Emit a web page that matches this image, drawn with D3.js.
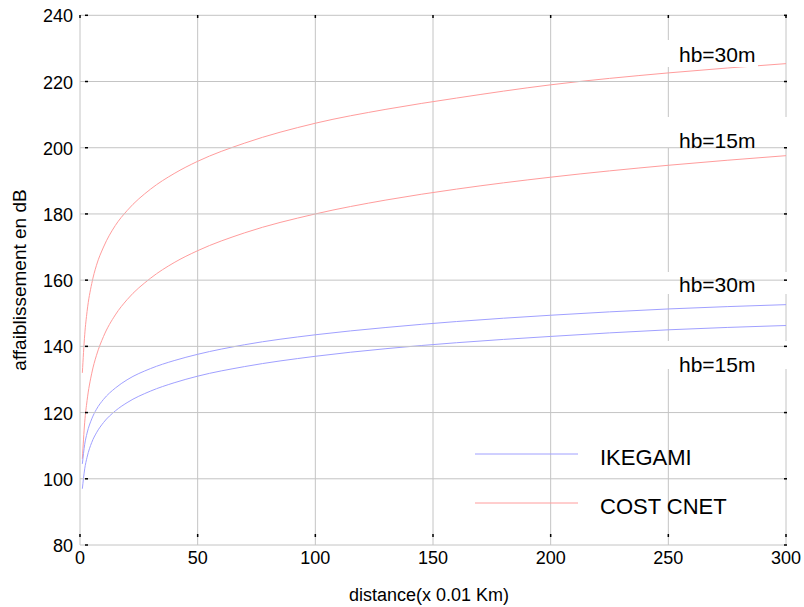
<!DOCTYPE html>
<html>
<head>
<meta charset="utf-8">
<script src="https://cdn.jsdelivr.net/npm/d3@7"></script>
<style>
body { margin: 0; background: #fff; }
text { font-family: "Liberation Sans", Arial, sans-serif; fill: #000; }
</style>
</head>
<body>
<div id="chart"></div>
<script>
// distance in units of 0.01 km
var distances = [1, 2, 3, 5, 7, 10, 15, 20, 30, 40, 50, 70, 100, 130, 160, 200, 250, 300];
// COST CNET (red)
var cost30 = [132, 143.5, 150.5, 159, 164.5, 170, 176.5, 181, 187.5, 192.2, 195.9, 201.4, 207.4, 211.6, 215, 219, 222.6, 225.4];
var cost15 = [106, 117.1, 123.6, 131.9, 137.3, 143, 149.5, 154.1, 160.6, 165.3, 168.9, 174.3, 180, 184.2, 187.5, 191.1, 194.7, 197.6];
// IKEGAMI (blue)
var ike30 = [104.5, 110.4, 113.8, 118.1, 121, 124, 127.4, 129.9, 133.3, 135.7, 137.6, 140.5, 143.5, 145.7, 147.5, 149.4, 151.3, 152.6];
var ike15 = [97, 103, 106.5, 111, 113.9, 117, 120.5, 123, 126.5, 129, 131, 133.9, 137, 139.3, 141.1, 143, 145, 146.3];

var xTicks = [0, 50, 100, 150, 200, 250, 300];
var yTicks = [80, 100, 120, 140, 160, 180, 200, 220, 240];
var legendNames = ["IKEGAMI", "COST CNET"];
var labels = [
  { text: "hb=30m", v: 240 - 54 / 3.3125 },
  { text: "hb=15m", v: 200 },
  { text: "hb=30m", v: 158 },
  { text: "hb=15m", v: 134 }
];

var W = 804, H = 607;
var svg = d3.select("#chart").append("svg")
    .attr("width", W)
    .attr("height", H);

var x = d3.scaleLinear().domain([0, 300]).range([80, 786]);
var y = d3.scaleLinear().domain([80, 240]).range([545, 15.3]);

var gridColor = "#c4c4c4";

// vertical grid
svg.append("g").selectAll("line").data(xTicks).join("line")
    .attr("x1", d => x(d)).attr("x2", d => x(d))
    .attr("y1", y(240)).attr("y2", y(80))
    .attr("stroke", gridColor).attr("stroke-width", 1);

// curves
var line = d3.line()
    .x((d, i) => x(distances[i]))
    .y(d => y(d))
    .curve(d3.curveMonotoneX);

var series = [
  { vals: cost30, color: "#ff9c9c" },
  { vals: cost15, color: "#ff9c9c" },
  { vals: ike30, color: "#a0a0ff" },
  { vals: ike15, color: "#a0a0ff" }
];
svg.append("g").selectAll("path").data(series).join("path")
    .attr("d", d => line(d.vals))
    .attr("fill", "none")
    .attr("stroke", d => d.color)
    .attr("stroke-width", 1);

// white boxes behind the labels
var boxes = [
  { y0: 40, y1: 67, x1: 758 },
  { y0: 117, y1: 148, x1: 790 },
  { y0: 272, y1: 294, x1: 790 },
  { y0: 341, y1: 369, x1: 790 }
];
svg.append("g").selectAll("rect").data(boxes).join("rect")
    .attr("x", 666).attr("y", d => d.y0)
    .attr("width", d => d.x1 - 666).attr("height", d => d.y1 - d.y0)
    .attr("fill", "#fff");

// horizontal grid
svg.append("g").selectAll("line").data(yTicks).join("line")
    .attr("x1", x(0)).attr("x2", x(300))
    .attr("y1", d => y(d)).attr("y2", d => y(d))
    .attr("stroke", gridColor).attr("stroke-width", 1);

// small black tick marks
var ticks = svg.append("g").attr("stroke", "#000").attr("stroke-width", 1.5);
yTicks.forEach(function (d) {
    ticks.append("line").attr("x1", 85).attr("x2", 88).attr("y1", y(d)).attr("y2", y(d));
    ticks.append("line").attr("x1", 784).attr("x2", 787).attr("y1", y(d)).attr("y2", y(d));
});
xTicks.forEach(function (d) {
    ticks.append("line").attr("x1", x(d)).attr("x2", x(d)).attr("y1", 534).attr("y2", 537);
    ticks.append("line").attr("x1", x(d)).attr("x2", x(d)).attr("y1", 15).attr("y2", 18);
});

// tick labels
svg.append("g").selectAll("text").data(yTicks).join("text")
    .attr("x", 73).attr("y", d => y(d) + 7)
    .attr("text-anchor", "end")
    .attr("font-size", "18px")
    .text(d => d);
svg.append("g").selectAll("text").data(xTicks).join("text")
    .attr("x", d => x(d)).attr("y", 564)
    .attr("text-anchor", "middle")
    .attr("font-size", "18px")
    .text(d => d);

// axis titles
svg.append("text")
    .attr("x", 429).attr("y", 601)
    .attr("text-anchor", "middle")
    .attr("font-size", "18px")
    .text("distance(x 0.01 Km)");
svg.append("text")
    .attr("transform", "translate(26," + 280 + ") rotate(-90)")
    .attr("text-anchor", "middle")
    .attr("font-size", "19px")
    .text("affaiblissement en dB");

// hb labels
var labelBase = [61.7, 147.7, 291.7, 371.7];
svg.append("g").selectAll("text").data(labels).join("text")
    .attr("x", 679).attr("y", (d, i) => labelBase[i])
    .attr("font-size", "21px")
    .text(d => d.text);

// legend
var legColors = ["#a0a0ff", "#ff9c9c"];
var legY = [454, 503];
var leg = svg.append("g");
leg.selectAll("line").data(legendNames).join("line")
    .attr("x1", 475).attr("x2", 578)
    .attr("y1", (d, i) => legY[i]).attr("y2", (d, i) => legY[i])
    .attr("stroke", (d, i) => legColors[i]).attr("stroke-width", 1);
leg.selectAll("text").data(legendNames).join("text")
    .attr("x", 600).attr("y", (d, i) => legY[i] + 11)
    .attr("font-size", "22px")
    .text(d => d);
</script>
</body>
</html>
